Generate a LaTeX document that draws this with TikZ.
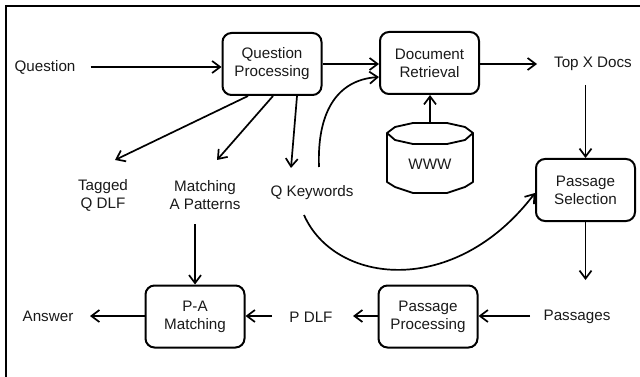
\documentclass[tikz,border=0pt]{standalone}
\usepackage{fontspec}
\setmainfont{Liberation Sans}
\usetikzlibrary{arrows.meta}
\begin{document}
\begin{tikzpicture}[x=1pt,y=-1pt,
  every node/.style={font=\fontsize{15.2}{18}\selectfont, text=black!90, align=center, inner sep=0pt},
  stage/.style={draw=black, line width=2pt, rounded corners=9pt, minimum width=99pt, minimum height=62pt},
  label/.style={},
  flow/.style={line width=1.7pt, -{Straight Barb[length=8pt,width=12pt]}},
  frame/.style={line width=2.6pt}
]
\useasboundingbox (0,0) rectangle (640,377);

% outer frame (top and left edges)
\draw[frame] (6,377) -- (6,6) -- (640,6);

% processing stages
\node[stage] (qp)  at (272,64)    {Question\\Processing};
\node[stage] (dr)  at (429.5,63)  {Document\\Retrieval};
\node[stage] (ps)  at (585.5,190) {Passage\\Selection};
\node[stage] (pp)  at (428,316.5) {Passage\\Processing};
\node[stage] (pam) at (195,316.5) {P-A\\Matching};

% data labels
\node[label] (q)    at (45,67)   {Question};
\node[label] (top)  at (593,64)  {Top X Docs};
\node[label] (pas)  at (577,317) {Passages};
\node[label] (pdlf) at (311,317) {P DLF};
\node[label] (ans)  at (48,316)  {Answer};
\node[label] (tag)  at (103,195) {Tagged\\Q DLF};
\node[label] (map)  at (205,195) {Matching\\A Patterns};
\node[label] (qk)   at (312,193) {Q Keywords};

% WWW database
\draw[line width=1.8pt, line join=round]
  (387,133) -- (395,127) -- (413,123) -- (447,123) -- (465,127) -- (473,133)
  -- (465,140) -- (447,144) -- (413,144) -- (395,140) -- cycle;
\draw[line width=1.8pt, line join=round]
  (387,133) -- (387,182) -- (395,187) -- (413,193) -- (447,193) -- (465,187) -- (473,182) -- (473,133);
\node (www) at (430,164) {WWW};
\coordinate (wwwtop) at (430,123);

% anchor points for connectors
\coordinate (qkup)   at (319,167);
\coordinate (qkdown) at (304,215);
\coordinate (drin)   at (379,77);
\coordinate (psin)   at (535,193);

% connectors
\draw[flow] (q.east) ++(15,0) -- (qp.west |- q.east);
\draw[flow] (qp.east |- 0,64) -- (dr.west |- 0,64);
\draw[flow] (dr.east |- 0,64) -- (537,64);
\draw[flow] (ps.north |- 0,85) -- (ps.north);
\draw[flow] (ps.south) -- (ps.south |- 0,280);
\draw[flow] (530,316) -- (pp.east |- 0,316);
\draw[flow] (pp.west |- 0,316) -- (353,316);
\draw[flow] (272,316) -- (pam.east |- 0,316);
\draw[flow] (pam.west |- 0,316) -- (90,316);
\draw[flow] (195,224) -- (pam.north);
\draw[flow] (wwwtop) -- (wwwtop |- dr.south);
\draw[flow] (248,96) -- (115,160);
\draw[flow] (273,96) -- (217,160);
\draw[flow] (297,96) -- (291,168);
\draw[flow] (qkup) .. controls (317,115) and (335,80) .. (drin);
\draw[flow] (qkdown) .. controls (335,285) and (455,298) .. (psin);
\end{tikzpicture}
\end{document}
